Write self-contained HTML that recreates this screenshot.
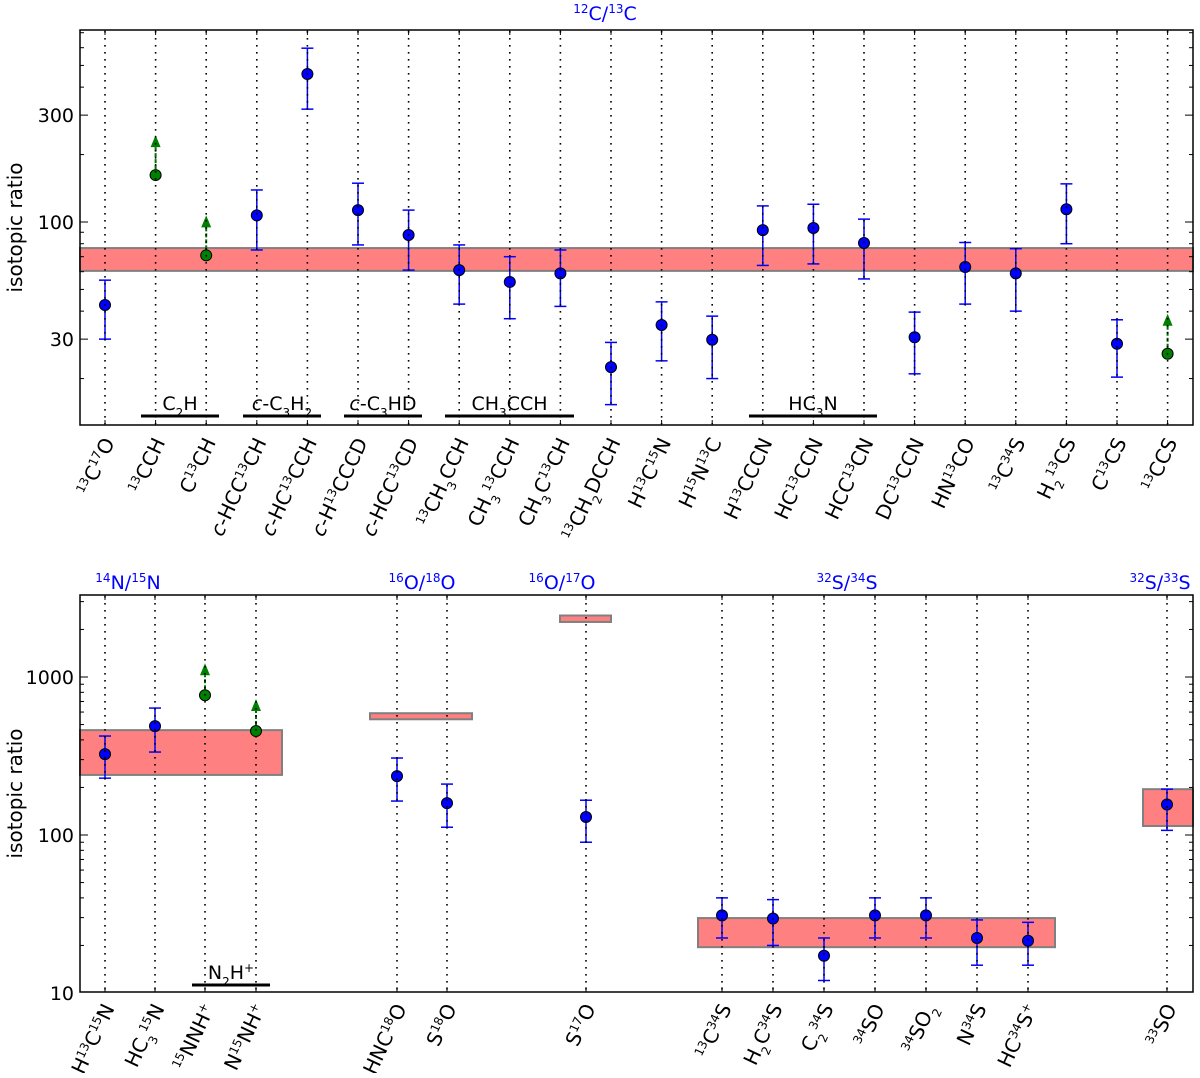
<!DOCTYPE html>
<html><head><meta charset="utf-8"><style>
body{margin:0;background:#fff}
svg text{font-family:"DejaVu Sans","Liberation Sans",sans-serif}
</style></head><body>
<svg id="s" width="1200" height="1073" xmlns="http://www.w3.org/2000/svg"></svg>
<script>
// ---- top panel data ----
const topLabels=['<tspan baseline-shift="super" font-size="12">13</tspan>C<tspan baseline-shift="super" font-size="12">17</tspan>O','<tspan baseline-shift="super" font-size="12">13</tspan>CCH','C<tspan baseline-shift="super" font-size="12">13</tspan>CH','<tspan font-style="italic">c</tspan>-HCC<tspan baseline-shift="super" font-size="12">13</tspan>CH','<tspan font-style="italic">c</tspan>-HC<tspan baseline-shift="super" font-size="12">13</tspan>CCH','<tspan font-style="italic">c</tspan>-H<tspan baseline-shift="super" font-size="12">13</tspan>CCCD','<tspan font-style="italic">c</tspan>-HCC<tspan baseline-shift="super" font-size="12">13</tspan>CD','<tspan baseline-shift="super" font-size="12">13</tspan>CH<tspan baseline-shift="sub" font-size="12">3</tspan>CCH','CH<tspan baseline-shift="sub" font-size="12">3</tspan><tspan baseline-shift="super" font-size="12">13</tspan>CCH','CH<tspan baseline-shift="sub" font-size="12">3</tspan>C<tspan baseline-shift="super" font-size="12">13</tspan>CH','<tspan baseline-shift="super" font-size="12">13</tspan>CH<tspan baseline-shift="sub" font-size="12">2</tspan>DCCH','H<tspan baseline-shift="super" font-size="12">13</tspan>C<tspan baseline-shift="super" font-size="12">15</tspan>N','H<tspan baseline-shift="super" font-size="12">15</tspan>N<tspan baseline-shift="super" font-size="12">13</tspan>C','H<tspan baseline-shift="super" font-size="12">13</tspan>CCCN','HC<tspan baseline-shift="super" font-size="12">13</tspan>CCN','HCC<tspan baseline-shift="super" font-size="12">13</tspan>CN','DC<tspan baseline-shift="super" font-size="12">13</tspan>CCN','HN<tspan baseline-shift="super" font-size="12">13</tspan>CO','<tspan baseline-shift="super" font-size="12">13</tspan>C<tspan baseline-shift="super" font-size="12">34</tspan>S','H<tspan baseline-shift="sub" font-size="12">2</tspan><tspan baseline-shift="super" font-size="12">13</tspan>CS','C<tspan baseline-shift="super" font-size="12">13</tspan>CS','<tspan baseline-shift="super" font-size="12">13</tspan>CCS'];
const topVal=[42.6,162,71,107,458,113,87.5,61,54,59,22.5,34.7,29.8,92,94,80.6,30.6,63,59,114,28.6,25.8];
const topHi=[55,null,null,139,597,149,113,79,70,75,29,44,38,118,120,103,39.6,81,76,148,36.6,null];
const topLo=[30,null,null,75,319,79,61,43,37,42,15.3,24,20,64,65,55.7,21,43,40,80,20.3,null];
const topLimit=[0,1,1,0,0,0,0,0,0,0,0,0,0,0,0,0,0,0,0,0,0,1];
const topBand=[60.5,76.5];
// ---- bottom panel data ----
const botCols=[105,155,205,256,397,447,586,722,773,824,875,926,977,1028,1167];
const botLabels=['H<tspan baseline-shift="super" font-size="12">13</tspan>C<tspan baseline-shift="super" font-size="12">15</tspan>N','HC<tspan baseline-shift="sub" font-size="12">3</tspan><tspan baseline-shift="super" font-size="12">15</tspan>N','<tspan baseline-shift="super" font-size="12">15</tspan>NNH<tspan baseline-shift="super" font-size="12">+</tspan>','N<tspan baseline-shift="super" font-size="12">15</tspan>NH<tspan baseline-shift="super" font-size="12">+</tspan>','HNC<tspan baseline-shift="super" font-size="12">18</tspan>O','S<tspan baseline-shift="super" font-size="12">18</tspan>O','S<tspan baseline-shift="super" font-size="12">17</tspan>O','<tspan baseline-shift="super" font-size="12">13</tspan>C<tspan baseline-shift="super" font-size="12">34</tspan>S','H<tspan baseline-shift="sub" font-size="12">2</tspan>C<tspan baseline-shift="super" font-size="12">34</tspan>S','C<tspan baseline-shift="sub" font-size="12">2</tspan><tspan baseline-shift="super" font-size="12">34</tspan>S','<tspan baseline-shift="super" font-size="12">34</tspan>SO','<tspan baseline-shift="super" font-size="12">34</tspan>SO<tspan baseline-shift="sub" font-size="12">2</tspan>','N<tspan baseline-shift="super" font-size="12">34</tspan>S','HC<tspan baseline-shift="super" font-size="12">34</tspan>S<tspan baseline-shift="super" font-size="12">+</tspan>','<tspan baseline-shift="super" font-size="12">33</tspan>SO'];
const botVal=[325,489,767,455,236,159,130,31,29.6,17.2,31,31,22.3,21.4,156];
const botHi=[423,636,null,null,307,210,166,40,39,22.3,40,40,29,28,195];
const botLo=[229,335,null,null,164,112,90,22.3,20,12,22.3,22.3,15,15,107];
const botLimit=[0,0,1,1,0,0,0,0,0,0,0,0,0,0,0];
const botBandLo=[240,540,2230,19.5,114];
const botBandHi=[461,590,2450,29.8,195];
const botBandX0=[80,370,560,698,1143];
const botBandX1=[282,472,611,1055,1193];

const S=document.getElementById('s');const NS='http://www.w3.org/2000/svg';
function el(t,a,p){const e=document.createElementNS(NS,t);for(const k in a)e.setAttribute(k,a[k]);(p||S).appendChild(e);return e;}
const yT=v=>222-224*Math.log10(v/100);
const yB=v=>835-158*Math.log10(v/100);
const xT=i=>105+i*50.6;

function panel(x0,y0,x1,y1,ys,ticks,minorRange,name){
  for(let d=minorRange[0];d<minorRange[1];d*=10)for(let m=1;m<10;m++){const v=d*m;const y=ys(v);if(y<=y0||y>=y1)continue;
    const major=ticks.includes(v);const L=major?8:4;
    let t=el('line',{x1:x0,y1:y,x2:x0+L,y2:y,stroke:'#000','stroke-width':1});
    t=el('line',{x1:x1,y1:y,x2:x1-L,y2:y,stroke:'#000','stroke-width':1});}
  ticks.forEach(v=>{const t=el('text',{x:x0-6,y:ys(v)+7,'text-anchor':'end','font-size':19});t.textContent=v;});
  const yl=el('text',{x:22,y:(y0+y1)/2,'text-anchor':'middle','font-size':20,transform:`rotate(-90 22 ${(y0+y1)/2})`});yl.textContent='isotopic ratio';
}
function vline(x,y0,y1){const l=el('line',{x1:x,y1:y0,x2:x,y2:y1,stroke:'#000','stroke-width':1.6,'stroke-dasharray':'1.6 5.4'});}
function point(x,v,hi,lo,lim,ys,alen){
  const g=el('g',{});
  if(lim){const y=ys(v);const ya=y-alen;
    el('line',{x1:x,y1:y,x2:x,y2:ya+8,stroke:'#007000','stroke-width':2,'stroke-dasharray':'4 2'},g);
    el('polygon',{points:`${x},${ya-4} ${x-5},${ya+8} ${x+5},${ya+8}`,fill:'#008000'},g);
    el('circle',{cx:x,cy:y,r:5.5,fill:'#008000',stroke:'#000','stroke-width':1},g);
    
  }else{
    el('line',{x1:x,y1:ys(hi),x2:x,y2:ys(lo),stroke:'#0000ff','stroke-width':1.5},g);
    el('line',{x1:x-6,y1:ys(hi),x2:x+6,y2:ys(hi),stroke:'#0000ff','stroke-width':1.5},g);
    el('line',{x1:x-6,y1:ys(lo),x2:x+6,y2:ys(lo),stroke:'#0000ff','stroke-width':1.5},g);
    el('circle',{cx:x,cy:ys(v),r:5.5,fill:'#0000ff',stroke:'#000','stroke-width':1},g);
    
  }
  
}
function xlabel(x,y,html,name){const t=el('text',{x:x+10,y:y,'text-anchor':'end','font-size':20,transform:`rotate(-65 ${x+10} ${y})`});t.innerHTML=html;}
function title(x,y,html){const t=el('text',{x:x,y:y,'text-anchor':'middle','font-size':19,fill:'#0000ff'});t.innerHTML=html;}
function group(x0,x1,y,txt,ty){el('line',{x1:x0,y1:y,x2:x1,y2:y,stroke:'#000','stroke-width':3});const t=el('text',{x:(x0+x1)/2,y:ty,'text-anchor':'middle','font-size':19});t.innerHTML=txt;}

// TOP
const bt=el('rect',{x:80,y:yT(topBand[1]),width:1113,height:yT(topBand[0])-yT(topBand[1]),fill:'#ff8080',stroke:'#808080','stroke-width':2});
topVal.forEach((v,i)=>point(xT(i),v,topHi[i],topLo[i],topLimit[i],yT,36));
topVal.forEach((v,i)=>{vline(xT(i),31,424);el('line',{x1:xT(i),y1:425,x2:xT(i),y2:420,stroke:'#000'});el('line',{x1:xT(i),y1:30,x2:xT(i),y2:35,stroke:'#000'});});
panel(80,30,1193,425,yT,[30,100,300],[10,1000],'top');
topLabels.forEach((h,i)=>xlabel(xT(i),442,h,'x-tick-label'));
group(141,219,416,'C<tspan baseline-shift="sub" font-size="12">2</tspan>H',410);
group(243,321,416,'<tspan font-style="italic">c</tspan>-C<tspan baseline-shift="sub" font-size="12">3</tspan>H<tspan baseline-shift="sub" font-size="12">2</tspan>',410);
group(344,422,416,'<tspan font-style="italic">c</tspan>-C<tspan baseline-shift="sub" font-size="12">3</tspan>HD',410);
group(445,574,416,'CH<tspan baseline-shift="sub" font-size="12">3</tspan>CCH',410);
group(749,877,416,'HC<tspan baseline-shift="sub" font-size="12">3</tspan>N',410);
const f1=el('rect',{x:80,y:30,width:1113,height:395,fill:'none',stroke:'#000','stroke-width':1.5});
title(605,20,'<tspan baseline-shift="super" font-size="12">12</tspan>C/<tspan baseline-shift="super" font-size="12">13</tspan>C');

// BOTTOM
botBandLo.forEach((lo,i)=>{const r=el('rect',{x:botBandX0[i],y:yB(botBandHi[i]),width:botBandX1[i]-botBandX0[i],height:yB(lo)-yB(botBandHi[i]),fill:'#ff8080',stroke:'#808080','stroke-width':2});});
botVal.forEach((v,i)=>point(botCols[i],v,botHi[i],botLo[i],botLimit[i],yB,28));
botCols.forEach(x=>{vline(x,596,991);el('line',{x1:x,y1:992,x2:x,y2:987,stroke:'#000'});el('line',{x1:x,y1:595,x2:x,y2:600,stroke:'#000'});});
panel(80,595,1193,992,yB,[10,100,1000],[10,10000],'bottom');
botLabels.forEach((h,i)=>xlabel(botCols[i],1008,h,'x-tick-label'));
group(192,270,985,'N<tspan baseline-shift="sub" font-size="12">2</tspan>H<tspan baseline-shift="super" font-size="12">+</tspan>',979);
const f2=el('rect',{x:80,y:595,width:1113,height:397,fill:'none',stroke:'#000','stroke-width':1.5});
title(128,589,'<tspan baseline-shift="super" font-size="12">14</tspan>N/<tspan baseline-shift="super" font-size="12">15</tspan>N');
title(422,589,'<tspan baseline-shift="super" font-size="12">16</tspan>O/<tspan baseline-shift="super" font-size="12">18</tspan>O');
title(562,589,'<tspan baseline-shift="super" font-size="12">16</tspan>O/<tspan baseline-shift="super" font-size="12">17</tspan>O');
title(847,589,'<tspan baseline-shift="super" font-size="12">32</tspan>S/<tspan baseline-shift="super" font-size="12">34</tspan>S');
title(1160,589,'<tspan baseline-shift="super" font-size="12">32</tspan>S/<tspan baseline-shift="super" font-size="12">33</tspan>S');
</script>
</body></html>
